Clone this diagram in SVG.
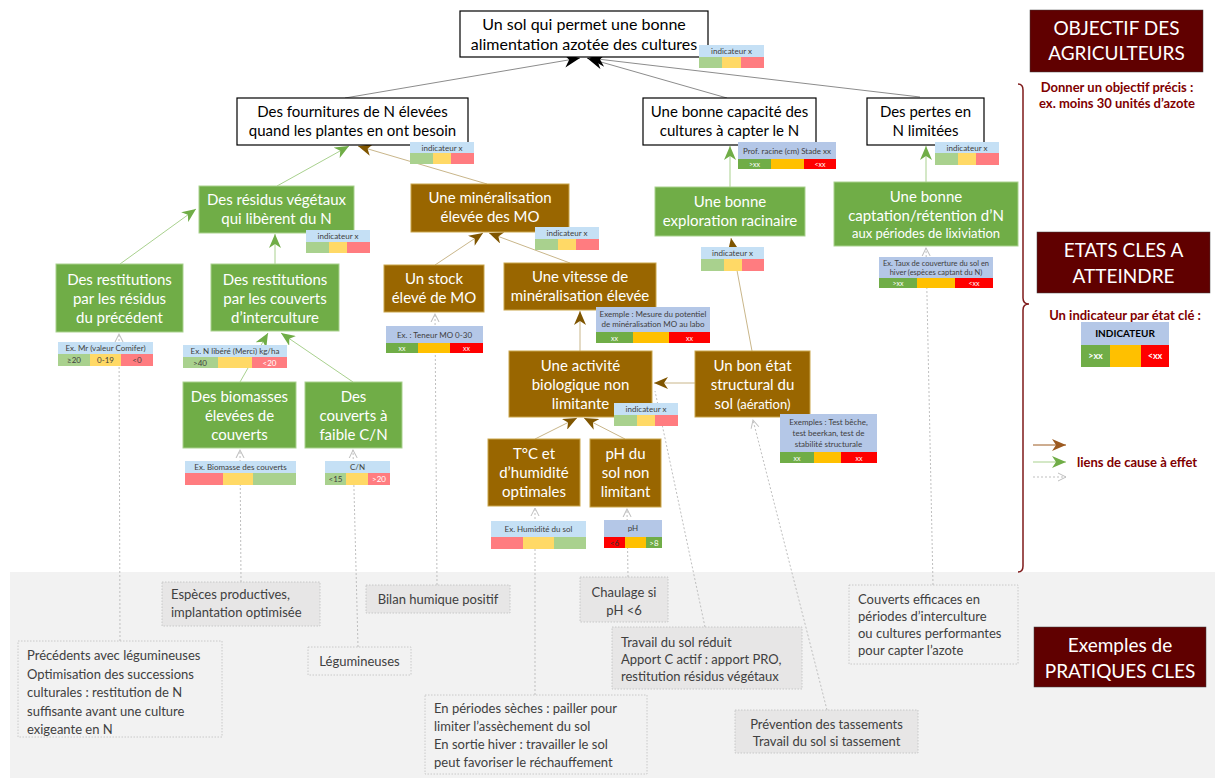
<svg xmlns="http://www.w3.org/2000/svg" width="1215" height="778" viewBox="0 0 1215 778">
<style>
text{font-family:Lato,"Liberation Sans",sans-serif}
.wbox{fill:#fff;stroke:#000;stroke-width:1.2}
.gbox{fill:#70ad47;stroke:#a9d18e;stroke-width:1}
.bbox{fill:#996600;stroke:#c9a54a;stroke-width:1}
.pd{fill:#e7e6e6;stroke:#bfbfbf;stroke-width:0.8;stroke-dasharray:1.5 1.5}
.pl{fill:#f2f2f2;stroke:#bfbfbf;stroke-width:0.8;stroke-dasharray:1.5 1.5}
.tw{font-size:15px;fill:#000;text-anchor:middle}
.tc{font-size:15px;fill:#fff;text-anchor:middle}
.tp{font-size:13px;fill:#404040}
.tpm{font-size:13px;fill:#404040;text-anchor:middle}
.it{font-size:8px;fill:#404040;text-anchor:middle}
.iw{font-size:8px;fill:#fff;text-anchor:middle}
.hl{fill:#c5e0f5}.hd{fill:#b4c7e7}
.lg{fill:#a9d18e}.ly{fill:#ffd966}.lr{fill:#ff7c80}
.dg{fill:#70ad47}.dy{fill:#ffc000}.dr{fill:#ff0000}
.red{fill:#600000}
.tr{font-size:19px;fill:#fff;text-anchor:middle}
.tm{font-size:13px;fill:#7f0000;font-weight:bold;text-anchor:middle}
.cg{stroke:#8c8c8c;stroke-width:1;fill:none}
.cgr{stroke:#a9d18e;stroke-width:1;fill:none}
.cb{stroke:#c9b68a;stroke-width:1;fill:none}
.cd{stroke:#bfbfbf;stroke-width:1;fill:none;stroke-dasharray:2 2}
</style>
<defs>
<marker id="mk" markerUnits="userSpaceOnUse" markerWidth="16" markerHeight="14" refX="16" refY="7" orient="auto"><path d="M0,0 L16,7 L0,14 L5,7 z" fill="#000"/></marker>
<marker id="mg" markerUnits="userSpaceOnUse" markerWidth="14" markerHeight="12" refX="14" refY="6" orient="auto"><path d="M0,0 L14,6 L0,12 L4,6 z" fill="#70ad47"/></marker>
<marker id="mb" markerUnits="userSpaceOnUse" markerWidth="14" markerHeight="12" refX="14" refY="6" orient="auto"><path d="M0,0 L14,6 L0,12 L4,6 z" fill="#7f5500"/></marker>
<marker id="mbl" markerUnits="userSpaceOnUse" markerWidth="14" markerHeight="12" refX="14" refY="6" orient="auto"><path d="M0,0 L14,6 L0,12 L4,6 z" fill="#9c5a20"/></marker>
<marker id="md" markerUnits="userSpaceOnUse" markerWidth="10" markerHeight="10" refX="8" refY="5" orient="auto"><path d="M0,1 L8,5 L0,9" fill="none" stroke="#bfbfbf" stroke-width="1"/></marker>
</defs>

<rect x="10" y="572" width="1205" height="206" fill="#f2f2f2"/>

<g id="connectors">
<line class="cg" x1="345" y1="98" x2="580" y2="58" marker-end="url(#mk)"/>
<line class="cg" x1="727" y1="98" x2="587" y2="58" marker-end="url(#mk)"/>
<line class="cg" x1="920" y1="97" x2="589" y2="58" marker-end="url(#mk)"/>
<line class="cgr" x1="277" y1="186" x2="349" y2="146" marker-end="url(#mg)"/>
<line class="cb" x1="487" y1="184" x2="358" y2="146" marker-end="url(#mb)"/>
<line class="cgr" x1="120" y1="264" x2="196" y2="209" marker-end="url(#mg)"/>
<line class="cgr" x1="275" y1="264" x2="275" y2="234" marker-end="url(#mg)"/>
<line class="cgr" x1="240" y1="382" x2="268" y2="333" marker-end="url(#mg)"/>
<line class="cgr" x1="353" y1="382" x2="281" y2="333" marker-end="url(#mg)"/>
<line class="cgr" x1="730" y1="187" x2="730" y2="146" marker-end="url(#mg)"/>
<line class="cgr" x1="926" y1="182" x2="926" y2="146" marker-end="url(#mg)"/>
<line class="cb" x1="435" y1="265" x2="483" y2="233" marker-end="url(#mb)"/>
<line class="cb" x1="570" y1="263" x2="489" y2="233" marker-end="url(#mb)"/>
<line class="cb" x1="580" y1="351" x2="580" y2="311" marker-end="url(#mb)"/>
<line class="cb" x1="695" y1="383" x2="654" y2="383" marker-end="url(#mb)"/>
<line class="cb" x1="752" y1="351" x2="731" y2="238" marker-end="url(#mb)"/>
<line class="cb" x1="535" y1="439" x2="577" y2="418" marker-end="url(#mb)"/>
<line class="cb" x1="625" y1="439" x2="584" y2="418" marker-end="url(#mb)"/>
<line class="cd" x1="120" y1="641" x2="119" y2="334" marker-end="url(#md)"/>
<line class="cd" x1="241" y1="582" x2="240" y2="450" marker-end="url(#md)"/>
<line class="cd" x1="358" y1="647" x2="353" y2="450" marker-end="url(#md)"/>
<line class="cd" x1="437" y1="585" x2="435" y2="314" marker-end="url(#md)"/>
<line class="cd" x1="535" y1="695" x2="535" y2="508" marker-end="url(#md)"/>
<line class="cd" x1="628" y1="577" x2="627" y2="509" marker-end="url(#md)"/>
<line class="cd" x1="705" y1="627" x2="655" y2="391"/>
<line class="cd" x1="827" y1="710" x2="753" y2="420" marker-end="url(#md)"/>
<line class="cd" x1="933" y1="585" x2="926" y2="248" marker-end="url(#md)"/>
</g>

<g id="n-objectif">
<rect class="wbox" x="460" y="11" width="248" height="46"/>
<text class="tw" x="584" y="30" style="font-size:16px">Un sol qui permet une bonne<tspan x="584" dy="20">alimentation azotée des cultures</tspan></text>
<rect class="hl" x="699" y="45" width="65" height="12"/><text class="it" x="731.5" y="54">indicateur x</text>
<rect class="lg" x="699" y="57" width="23" height="11"/><rect class="ly" x="722" y="57" width="19" height="11"/><rect class="lr" x="741" y="57" width="23" height="11"/>
</g>

<g id="n-fournitures">
<rect class="wbox" x="237" y="98" width="231" height="47"/>
<text class="tw" x="352.5" y="117">Des fournitures de N élevées<tspan x="352.5" dy="19">quand les plantes en ont besoin</tspan></text>
<rect class="hl" x="410" y="142" width="64" height="11"/><text class="it" x="442" y="150.5">indicateur x</text>
<rect class="lg" x="410" y="153" width="23" height="11"/><rect class="ly" x="433" y="153" width="18" height="11"/><rect class="lr" x="451" y="153" width="23" height="11"/>
</g>

<g id="n-capacite">
<rect class="wbox" x="643" y="98" width="173" height="47"/>
<text class="tw" x="729.5" y="117">Une bonne capacité des<tspan x="729.5" dy="19">cultures à capter le N</tspan></text>
<rect class="hd" x="738" y="142" width="98" height="17"/><text class="it" x="787" y="153.5">Prof. racine (cm) Stade xx</text>
<rect class="dg" x="738" y="159" width="33" height="10"/><rect class="dy" x="771" y="159" width="33" height="10"/><rect class="dr" x="804" y="159" width="32" height="10"/>
<text class="iw" x="754.5" y="167" style="font-size:7px">&gt;xx</text><text class="iw" x="820" y="167" style="font-size:7px">&lt;xx</text>
</g>

<g id="n-pertes">
<rect class="wbox" x="867" y="98" width="117" height="47"/>
<text class="tw" x="925.5" y="117">Des pertes en<tspan x="925.5" dy="19">N limitées</tspan></text>
<rect class="hl" x="935" y="142" width="64" height="11"/><text class="it" x="967" y="150.5">indicateur x</text>
<rect class="lg" x="935" y="153" width="23" height="12"/><rect class="ly" x="958" y="153" width="18" height="12"/><rect class="lr" x="976" y="153" width="23" height="12"/>
</g>

<g id="n-residus">
<rect class="gbox" x="199" y="186" width="155" height="47"/>
<text class="tc" x="276.5" y="205">Des résidus végétaux<tspan x="276.5" dy="19">qui libèrent du N</tspan></text>
<rect class="hl" x="306" y="230" width="64" height="12"/><text class="it" x="338" y="239">indicateur x</text>
<rect class="lg" x="306" y="242" width="23" height="11"/><rect class="ly" x="329" y="242" width="18" height="11"/><rect class="lr" x="347" y="242" width="23" height="11"/>
</g>

<g id="n-mineralisation">
<rect class="bbox" x="411" y="184" width="158" height="48"/>
<text class="tc" x="490" y="203">Une minéralisation<tspan x="490" dy="19">élevée des MO</tspan></text>
<rect class="hl" x="535" y="227" width="64" height="12"/><text class="it" x="567" y="236">indicateur x</text>
<rect class="lg" x="535" y="239" width="23" height="11"/><rect class="ly" x="558" y="239" width="18" height="11"/><rect class="lr" x="576" y="239" width="23" height="11"/>
</g>

<g id="n-exploration">
<rect class="gbox" x="655" y="187" width="150" height="49"/>
<text class="tc" x="730" y="207">Une bonne<tspan x="730" dy="19">exploration racinaire</tspan></text>
<rect class="hl" x="701" y="247" width="63" height="12"/><text class="it" x="732.5" y="256">indicateur x</text>
<rect class="lg" x="701" y="259" width="23" height="12"/><rect class="ly" x="724" y="259" width="18" height="12"/><rect class="lr" x="742" y="259" width="22" height="12"/>
</g>

<g id="n-captation">
<rect class="gbox" x="834" y="182" width="184" height="64"/>
<text class="tc" x="926" y="202">Une bonne<tspan x="926" dy="19">captation/rétention d’N</tspan><tspan x="926" dy="17" style="font-size:13px">aux périodes de lixiviation</tspan></text>
<rect class="hd" x="879" y="257" width="114" height="21"/><text class="it" x="936" y="266" style="font-size:7.5px">Ex. Taux de couverture du sol en<tspan x="936" dy="9">hiver (espèces captant du N)</tspan></text>
<rect class="dg" x="879" y="278" width="38" height="10"/><rect class="dy" x="917" y="278" width="38" height="10"/><rect class="dr" x="955" y="278" width="38" height="10"/>
<text class="iw" x="898" y="286" style="font-size:7px">&gt;xx</text><text class="iw" x="974" y="286" style="font-size:7px">&lt;xx</text>
</g>

<g id="n-restitutions-residus">
<rect class="gbox" x="56" y="264" width="127" height="68"/>
<text class="tc" x="119.5" y="285">Des restitutions<tspan x="119.5" dy="19">par les résidus</tspan><tspan x="119.5" dy="19">du précédent</tspan></text>
<rect class="hl" x="58" y="342" width="95" height="12"/><text class="it" x="105.5" y="351">Ex. Mr  (valeur Comifer)</text>
<rect class="lg" x="58" y="354" width="32" height="12"/><rect class="ly" x="90" y="354" width="31" height="12"/><rect class="lr" x="121" y="354" width="32" height="12"/>
<text class="it" x="74" y="363">≥20</text><text class="it" x="105.5" y="363">0-19</text><text class="it" x="137" y="363">&lt;0</text>
</g>

<g id="n-restitutions-couverts">
<rect class="gbox" x="211" y="264" width="128" height="67"/>
<text class="tc" x="275" y="285">Des restitutions<tspan x="275" dy="19">par les couverts</tspan><tspan x="275" dy="19">d’interculture</tspan></text>
<rect class="hl" x="183" y="345" width="104" height="12"/><text class="it" x="235" y="354">Ex. N libéré (Merci) kg/ha</text>
<rect class="lg" x="183" y="357" width="35" height="11"/><rect class="ly" x="218" y="357" width="34" height="11"/><rect class="lr" x="252" y="357" width="35" height="11"/>
<text class="it" x="200" y="365.5">&gt;40</text><text class="iw" x="269.5" y="365.5">&lt;20</text>
</g>

<g id="n-biomasses">
<rect class="gbox" x="183" y="382" width="113" height="66"/>
<text class="tc" x="239.5" y="402">Des biomasses<tspan x="239.5" dy="19">élevées de</tspan><tspan x="239.5" dy="19">couverts</tspan></text>
<rect class="hl" x="185" y="461" width="111" height="12"/><text class="it" x="240.5" y="470">Ex. Biomasse des couverts</text>
<rect class="lr" x="185" y="473" width="38" height="12"/><rect class="ly" x="223" y="473" width="30" height="12"/><rect class="lg" x="253" y="473" width="43" height="12"/>
</g>

<g id="n-faible-cn">
<rect class="gbox" x="305" y="382" width="97" height="66"/>
<text class="tc" x="353.5" y="402">Des<tspan x="353.5" dy="19">couverts à</tspan><tspan x="353.5" dy="19">faible C/N</tspan></text>
<rect class="hl" x="325" y="461" width="65" height="12"/><text class="it" x="357.5" y="470">C/N</text>
<rect class="lg" x="325" y="473" width="21" height="12"/><rect class="ly" x="346" y="473" width="22" height="12"/><rect class="lr" x="368" y="473" width="22" height="12"/>
<text class="it" x="335.5" y="482">&lt;15</text><text class="iw" x="379" y="482">&gt;20</text>
</g>

<g id="n-stock">
<rect class="bbox" x="384" y="265" width="100" height="47"/>
<text class="tc" x="434" y="284">Un stock<tspan x="434" dy="19">élevé de MO</tspan></text>
<rect class="hd" x="386" y="326" width="97" height="17"/><text class="it" x="434.5" y="337.5">Ex. : Teneur MO 0-30</text>
<rect class="dg" x="386" y="343" width="32" height="10"/><rect class="dy" x="418" y="343" width="32" height="10"/><rect class="dr" x="450" y="343" width="33" height="10"/>
<text class="iw" x="402" y="351" style="font-size:7px">xx</text><text class="iw" x="466.5" y="351" style="font-size:7px">xx</text>
</g>

<g id="n-vitesse">
<rect class="bbox" x="504" y="263" width="152" height="47"/>
<text class="tc" x="580" y="282">Une vitesse de<tspan x="580" dy="19">minéralisation élevée</tspan></text>
<rect class="hd" x="596" y="307" width="114" height="25"/><text class="it" x="653" y="317">Exemple : Mesure du potentiel<tspan x="653" dy="10">de minéralisation MO au labo</tspan></text>
<rect class="dg" x="596" y="332" width="37" height="11"/><rect class="dy" x="633" y="332" width="36" height="11"/><rect class="dr" x="669" y="332" width="41" height="11"/>
<text class="iw" x="614.5" y="340.5" style="font-size:7px">xx</text><text class="iw" x="689.5" y="340.5" style="font-size:7px">xx</text>
</g>

<g id="n-activite">
<rect class="bbox" x="509" y="351" width="143" height="66"/>
<text class="tc" x="580.5" y="371">Une activité<tspan x="580.5" dy="19">biologique non</tspan><tspan x="580.5" dy="19">limitante</tspan></text>
<rect class="hl" x="614" y="403" width="64" height="12"/><text class="it" x="646" y="412">indicateur x</text>
<rect class="lg" x="614" y="415" width="23" height="11"/><rect class="ly" x="637" y="415" width="18" height="11"/><rect class="lr" x="655" y="415" width="23" height="11"/>
</g>

<g id="n-etat-structural">
<rect class="bbox" x="695" y="351" width="115" height="66"/>
<text class="tc" x="752.5" y="371">Un bon état<tspan x="752.5" dy="19">structural du</tspan><tspan x="752.5" dy="19">sol <tspan style="font-size:13px">(aération)</tspan></tspan></text>
<rect class="hd" x="780" y="414" width="97" height="38"/><text class="it" x="828.5" y="425">Exemples : Test bêche,<tspan x="828.5" dy="11">test beerkan, test de</tspan><tspan x="828.5" dy="11">stabilité structurale</tspan></text>
<rect class="dg" x="780" y="452" width="34" height="11"/><rect class="dy" x="814" y="452" width="27" height="11"/><rect class="dr" x="841" y="452" width="36" height="11"/>
<text class="iw" x="797" y="460.5" style="font-size:7px">xx</text><text class="iw" x="859" y="460.5" style="font-size:7px">xx</text>
</g>

<g id="n-temperature">
<rect class="bbox" x="488" y="439" width="92" height="67"/>
<text class="tc" x="534" y="459">T°C et<tspan x="534" dy="19">d’humidité</tspan><tspan x="534" dy="19">optimales</tspan></text>
<rect class="hl" x="491" y="521" width="95" height="16"/><text class="it" x="538.5" y="532">Ex. Humidité du sol</text>
<rect class="lr" x="491" y="537" width="32" height="12"/><rect class="ly" x="523" y="537" width="31" height="12"/><rect class="lg" x="554" y="537" width="32" height="12"/>
</g>

<g id="n-ph">
<rect class="bbox" x="590" y="439" width="71" height="68"/>
<text class="tc" x="625.5" y="459">pH du<tspan x="625.5" dy="19">sol non</tspan><tspan x="625.5" dy="19">limitant</tspan></text>
<rect class="hd" x="604" y="520" width="58" height="17"/><text class="it" x="633" y="531">pH</text>
<rect class="dr" x="604" y="537" width="21" height="11"/><rect class="dy" x="625" y="537" width="21" height="11"/><rect class="dg" x="646" y="537" width="16" height="11"/>
<text class="it" x="614.5" y="545.5" style="fill:#333">&lt;6</text><text class="iw" x="654" y="545.5">&gt;8</text>
</g>

<g id="p-especes"><rect class="pd" x="162" y="582" width="158" height="44"/><text class="tp" x="171" y="599">Espèces productives,<tspan x="171" dy="18">implantation optimisée</tspan></text></g>
<g id="p-bilan"><rect class="pd" x="366" y="585" width="144" height="28"/><text class="tpm" x="438" y="604">Bilan humique positif</text></g>
<g id="p-precedents"><rect class="pl" x="18" y="641" width="204" height="96"/><text class="tp" x="27" y="660">Précédents avec légumineuses<tspan x="27" dy="18.5">Optimisation des successions</tspan><tspan x="27" dy="18.5">culturales : restitution de N</tspan><tspan x="27" dy="18.5">suffisante avant une culture</tspan><tspan x="27" dy="18.5">exigeante en N</tspan></text></g>
<g id="p-legumineuses"><rect class="pl" x="308" y="647" width="103" height="28"/><text class="tpm" x="359.5" y="666">Légumineuses</text></g>
<g id="p-periodes"><rect class="pl" x="425" y="695" width="222" height="79"/><text class="tp" x="434" y="713">En périodes sèches : pailler pour<tspan x="434" dy="18">limiter l’assèchement du sol</tspan><tspan x="434" dy="18">En sortie hiver : travailler le sol</tspan><tspan x="434" dy="18">peut favoriser le réchauffement</tspan></text></g>
<g id="p-chaulage"><rect class="pd" x="580" y="577" width="88" height="45"/><text class="tpm" x="624" y="597">Chaulage si<tspan x="624" dy="18">pH &lt;6</tspan></text></g>
<g id="p-travail"><rect class="pd" x="612" y="627" width="190" height="62"/><text class="tp" x="621" y="647">Travail du sol réduit<tspan x="621" dy="17">Apport C actif : apport PRO,</tspan><tspan x="621" dy="17">restitution résidus végétaux</tspan></text></g>
<g id="p-prevention"><rect class="pd" x="735" y="710" width="183" height="43"/><text class="tpm" x="826.5" y="729">Prévention des tassements<tspan x="826.5" dy="17">Travail du sol si tassement</tspan></text></g>
<g id="p-couverts"><rect class="pl" x="849" y="585" width="169" height="79"/><text class="tp" x="858" y="604">Couverts efficaces en<tspan x="858" dy="17">périodes d’interculture</tspan><tspan x="858" dy="17">ou cultures performantes</tspan><tspan x="858" dy="17">pour capter l’azote</tspan></text></g>

<g id="legend">
<path d="M1018,84 Q1023,84 1023,90 L1023,298 Q1023,304 1029,304 Q1023,304 1023,310 L1023,566 Q1023,572 1018,572" fill="none" stroke="#7f1a1a" stroke-width="1.5"/>
<rect class="red" x="1030" y="10" width="173" height="62" stroke="#404040" stroke-width="0.5"/>
<text class="tr" x="1116.5" y="35">OBJECTIF DES<tspan x="1116.5" dy="25">AGRICULTEURS</tspan></text>
<text class="tm" x="1117" y="92">Donner un objectif précis :<tspan x="1117" dy="16">ex. moins 30 unités d’azote</tspan></text>
<rect class="red" x="1037" y="232" width="173" height="61" stroke="#404040" stroke-width="0.5"/>
<text class="tr" x="1123.5" y="257">ETATS CLES A<tspan x="1123.5" dy="26">ATTEINDRE</tspan></text>
<text class="tm" x="1125" y="320">Un indicateur par état clé :</text>
<rect class="hd" x="1081" y="322" width="88" height="23"/><text x="1125" y="337" style="font-size:10px;font-weight:bold;fill:#000;text-anchor:middle">INDICATEUR</text>
<rect class="dg" x="1081" y="345" width="29" height="22"/><rect class="dy" x="1110" y="345" width="31" height="22"/><rect class="dr" x="1141" y="345" width="28" height="22"/>
<text class="iw" x="1095.5" y="359" style="font-size:9px;font-weight:bold">&gt;xx</text><text class="iw" x="1155" y="359" style="font-size:9px;font-weight:bold">&lt;xx</text>
<line x1="1033" y1="445" x2="1066" y2="445" stroke="#9c5a20" stroke-width="1" marker-end="url(#mbl)"/>
<line x1="1033" y1="462" x2="1066" y2="462" stroke="#a9d18e" stroke-width="1" marker-end="url(#mg)"/>
<line x1="1033" y1="477" x2="1066" y2="477" class="cd" marker-end="url(#md)"/>
<text x="1077" y="467" style="font-size:13px;fill:#7f0000;font-weight:bold">liens de cause à effet</text>
<rect class="red" x="1034" y="627" width="172" height="60" stroke="#404040" stroke-width="0.5"/>
<text class="tr" x="1120" y="652">Exemples de<tspan x="1120" dy="26">PRATIQUES CLES</tspan></text>
</g>
</svg>
